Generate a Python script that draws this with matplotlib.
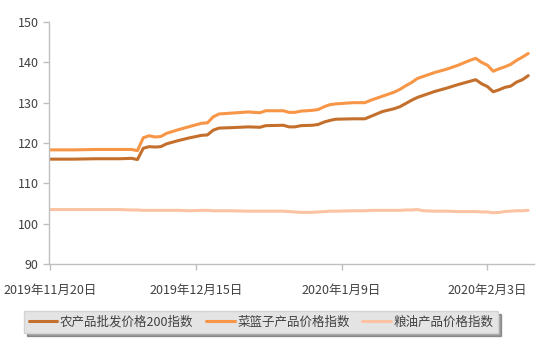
import matplotlib.pyplot as plt
import matplotlib.dates as mdates
import numpy as np
import pandas as pd

plt.rcParams['font.family'] = ['Noto Sans CJK SC', 'DejaVu Sans']

# days after 2019-11-20 and index values
days = [0, 4, 8, 12, 14, 15, 16, 17, 18, 19, 20, 22, 24, 26, 27, 28, 29, 31, 34, 36, 37,
        40, 41, 42, 43, 45, 46, 47, 48, 49, 52, 54, 55, 56, 57, 59, 60, 61, 62, 63, 64,
        66, 68, 70, 72, 73, 74, 75, 76, 77, 78, 79, 80, 81, 82]
agri200 = [116.0, 116.0, 116.1, 116.1, 116.2, 115.9, 118.7, 119.1, 119.0, 119.1, 119.8,
           120.6, 121.3, 121.9, 122.0, 123.2, 123.7, 123.8, 124.0, 123.9, 124.3,
           124.4, 124.0, 124.0, 124.3, 124.4, 124.6, 125.2, 125.6, 125.9, 126.0, 126.0,
           126.6, 127.2, 127.8, 128.5, 129.0, 129.8, 130.6, 131.3, 131.8,
           132.8, 133.6, 134.5, 135.3, 135.7, 134.7, 134.0, 132.7, 133.2, 133.8, 134.1,
           135.1, 135.7, 136.7]
basket = [118.3, 118.3, 118.4, 118.4, 118.4, 118.1, 121.3, 121.8, 121.5, 121.6, 122.4,
          123.3, 124.1, 124.9, 125.0, 126.5, 127.2, 127.4, 127.7, 127.5, 128.0,
          128.0, 127.6, 127.6, 127.9, 128.1, 128.3, 129.0, 129.5, 129.7, 130.0, 130.0,
          130.6, 131.1, 131.6, 132.6, 133.3, 134.2, 135.0, 136.0, 136.5,
          137.5, 138.3, 139.3, 140.5, 141.0, 140.0, 139.3, 137.8, 138.4, 138.9, 139.5,
          140.5, 141.3, 142.2]
grain_oil = [103.5, 103.5, 103.5, 103.5, 103.4, 103.4, 103.3, 103.3, 103.3, 103.3, 103.3,
             103.3, 103.2, 103.3, 103.3, 103.2, 103.2, 103.2, 103.1, 103.1, 103.1,
             103.1, 103.0, 102.9, 102.8, 102.8, 102.9, 103.0, 103.1, 103.1, 103.2, 103.2,
             103.3, 103.3, 103.3, 103.3, 103.3, 103.4, 103.4, 103.5, 103.2,
             103.1, 103.1, 103.0, 103.0, 103.0, 102.9, 102.9, 102.7, 102.8, 103.0, 103.1,
             103.2, 103.2, 103.3]
labels = ['农产品批发价格200指数', '菜篮子产品价格指数', '粮油产品价格指数']
colors = ['#c4702c', '#f79646', '#fbc3a3']
tick_dates = ['2019-11-20', '2019-12-15', '2020-01-09', '2020-02-03']
tick_labels = ['2019年11月20日', '2019年12月15日', '2020年1月9日', '2020年2月3日']

start = pd.Timestamp('2019-11-20')
dates = start + pd.to_timedelta(days, unit='D')

fig = plt.figure(figsize=(5.54, 3.61), dpi=100)
ax = fig.add_axes([0.0884, 0.2687, 0.8756, 0.6703])

for series, lab, col in zip([agri200, basket, grain_oil], labels, colors):
    ax.plot(dates, series, color=col, linewidth=2.2, label=lab, solid_capstyle='round')

ax.set_ylim(90, 150)
ax.set_yticks(np.arange(90, 151, 10))
ax.set_xlim(start - pd.Timedelta(hours=4), start + pd.Timedelta(days=83))
ax.set_xticks(pd.to_datetime(tick_dates))
ax.set_xticklabels(tick_labels)

for side in ['top', 'right']:
    ax.spines[side].set_visible(False)
for side in ['left', 'bottom']:
    ax.spines[side].set_color('#bfbfbf')
    ax.spines[side].set_linewidth(1.0)
ax.tick_params(axis='both', colors='#bfbfbf', labelcolor='#404040', labelsize=9,
               length=4, width=1.0, direction='out')
ax.tick_params(axis='x', pad=10)

leg = fig.legend(loc='center', bbox_to_anchor=(261 / 554, 1 - 322 / 361), ncol=3,
                 fontsize=9, handlelength=2.3, handletextpad=0.2, columnspacing=1.0,
                 frameon=True, fancybox=False, shadow=True, borderpad=0.35)
leg.get_frame().set_facecolor('#e4e4e4')
leg.get_frame().set_edgecolor('#d4d4d4')
for t in leg.get_texts():
    t.set_color('#404040')

fig.savefig('out.png', dpi=100)
